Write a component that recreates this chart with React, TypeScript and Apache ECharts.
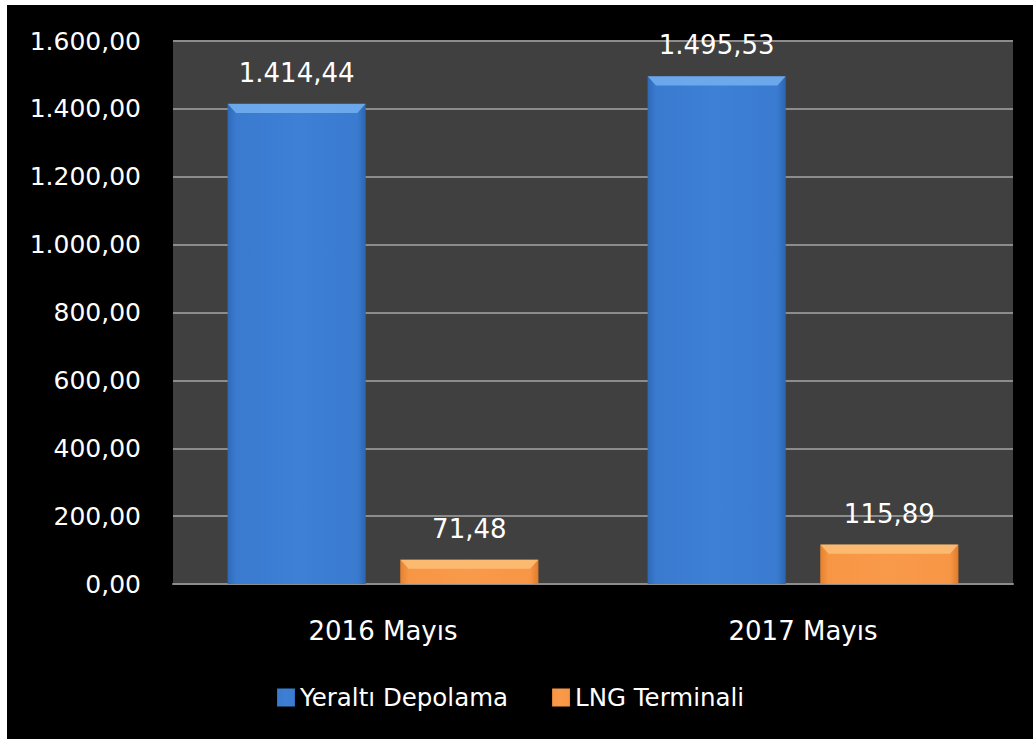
import React, { useEffect, useRef } from "react";
import * as echarts from "echarts";

const categories = ["2016 Mayıs", "2017 Mayıs"];
const seriesNames = ["Yeraltı Depolama", "LNG Terminali"];
const undergroundValues = [1414.44, 1495.53];
const lngValues = [71.48, 115.89];
const yMin = 0;
const yMax = 1600;
const yInterval = 200;

function formatTr(v: number): string {
  const fixed = Math.abs(v).toFixed(2);
  const [intPart, dec] = fixed.split(".");
  const withDots = intPart.replace(/\B(?=(\d{3})+(?!\d))/g, ".");
  return (v < 0 ? "-" : "") + withDots + "," + dec;
}

const FONT = "DejaVu Sans";

export default function App() {
  const ref = useRef<HTMLDivElement>(null);
  useEffect(() => {
    if (!ref.current) return;
    const chart = echarts.init(ref.current, null, { renderer: "svg" });
    const blueGrad = new echarts.graphic.LinearGradient(0, 0, 1, 0, [
      { offset: 0, color: "#2f69b8" },
      { offset: 0.06, color: "#3a7acf" },
      { offset: 0.5, color: "#3d80d6" },
      { offset: 0.94, color: "#3a7bd0" },
      { offset: 1, color: "#2c64b0" },
    ]);
    const orangeGrad = new echarts.graphic.LinearGradient(0, 0, 1, 0, [
      { offset: 0, color: "#e5822f" },
      { offset: 0.06, color: "#f79645" },
      { offset: 0.5, color: "#f99a4a" },
      { offset: 0.94, color: "#f79645" },
      { offset: 1, color: "#e07c2a" },
    ]);
    const bevel = "path://M0,0 L100,0 L94,8 L6,8 Z";
    const barGap = "25%";
    const barCategoryGap = "26%";
    chart.setOption({
      animation: false,
      backgroundColor: "#000000",
      grid: { left: 166, right: 20, top: 36, bottom: 155, show: true, backgroundColor: "#404040", borderWidth: 0 },
      legend: {
        data: seriesNames,
        left: 265,
        top: 675,
        itemWidth: 18,
        itemHeight: 18,
        itemGap: 44,
        icon: "rect",
        textStyle: { color: "#ffffff", fontFamily: FONT, fontSize: 24.5 },
      },
      xAxis: {
        type: "category",
        data: categories,
        axisLine: { show: true, lineStyle: { color: "#8c8c8c", width: 2 } },
        axisTick: { show: false },
        axisLabel: { color: "#ffffff", fontFamily: FONT, fontSize: 26, margin: 34 },
      },
      yAxis: {
        type: "value",
        min: yMin,
        max: yMax,
        interval: yInterval,
        axisLine: { show: false },
        axisTick: { show: false },
        splitLine: { lineStyle: { color: "#8c8c8c", width: 2 } },
        axisLabel: {
          color: "#ffffff",
          fontFamily: FONT,
          fontSize: 25,
          margin: 32,
          formatter: (v: number) => formatTr(v),
        },
      },
      series: [
        {
          name: seriesNames[0],
          type: "bar",
          data: undergroundValues,
          barGap,
          barCategoryGap,
          itemStyle: { color: blueGrad },
          label: {
            show: true,
            position: "top",
            distance: 18,
            color: "#ffffff",
            fontFamily: FONT,
            fontSize: 26,
            formatter: (p: any) => formatTr(p.value),
          },
        },
        {
          name: seriesNames[1],
          type: "bar",
          data: lngValues,
          barGap,
          barCategoryGap,
          itemStyle: { color: orangeGrad },
          label: {
            show: true,
            position: "top",
            distance: 18,
            color: "#ffffff",
            fontFamily: FONT,
            fontSize: 26,
            formatter: (p: any) => formatTr(p.value),
          },
        },
        {
          name: "bevel-blue",
          type: "pictorialBar",
          data: undergroundValues,
          barGap,
          barCategoryGap,
          symbol: bevel,
          symbolSize: ["100%", 9],
          symbolPosition: "end",
          symbolRepeat: false,
          itemStyle: { color: "#74b0f0", opacity: 0.85 },
          silent: true,
          z: 3,
        },
        {
          name: "bevel-orange",
          type: "pictorialBar",
          data: lngValues,
          barGap,
          barCategoryGap,
          symbol: bevel,
          symbolSize: ["100%", 9],
          symbolPosition: "end",
          symbolRepeat: false,
          itemStyle: { color: "#fdbf78", opacity: 0.85 },
          silent: true,
          z: 3,
        },
      ],
    });
    return () => chart.dispose();
  }, []);
  return (
    <div
      ref={ref}
      style={{ position: "absolute", left: 7, top: 5, width: 1026, height: 734, background: "#000" }}
    />
  );
}
